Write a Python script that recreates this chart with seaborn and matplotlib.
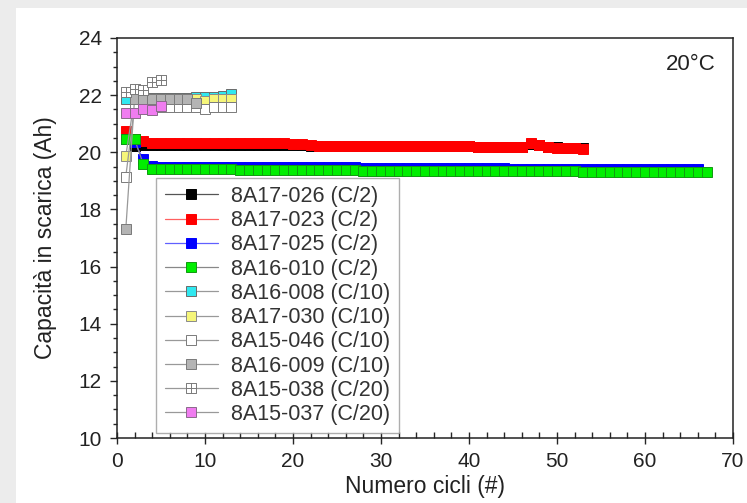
import numpy as np
import pandas as pd
import seaborn as sns
import matplotlib
matplotlib.use("Agg")
import matplotlib.pyplot as plt
from matplotlib.path import Path
from matplotlib.patches import Rectangle
from matplotlib.ticker import MultipleLocator

# --- data (capacity in Ah vs cycle number) ---
labels = ["8A17-026 (C/2)", "8A17-023 (C/2)", "8A17-025 (C/2)", "8A16-010 (C/2)",
          "8A16-008 (C/10)", "8A17-030 (C/10)", "8A15-046 (C/10)", "8A16-009 (C/10)",
          "8A15-038 (C/20)", "8A15-037 (C/20)"]

cap_8a17_026 = [20.45, 20.22, 20.27, 20.27, 20.27, 20.27, 20.27, 20.27, 20.27, 20.27,
                20.27, 20.27, 20.27, 20.27, 20.27, 20.26, 20.26, 20.26, 20.26, 20.25,
                20.25, 20.22, 20.22, 20.22, 20.22, 20.22, 20.22, 20.22, 20.22, 20.22,
                20.22, 20.22, 20.22, 20.22, 20.22, 20.21, 20.21, 20.21, 20.21, 20.21,
                20.2, 20.2, 20.2, 20.2, 20.2, 20.2, 20.3, 20.24, 20.17, 20.17,
                20.16, 20.16, 20.16]
cap_8a17_023 = [20.75, 20.45, 20.38, 20.33, 20.32, 20.32, 20.32, 20.32, 20.32, 20.32,
                20.32, 20.32, 20.32, 20.32, 20.32, 20.31, 20.31, 20.31, 20.31, 20.3,
                20.3, 20.24, 20.23, 20.23, 20.23, 20.23, 20.23, 20.23, 20.23, 20.22,
                20.22, 20.22, 20.22, 20.22, 20.22, 20.21, 20.21, 20.21, 20.21, 20.21,
                20.2, 20.2, 20.2, 20.2, 20.2, 20.2, 20.32, 20.24, 20.17, 20.16,
                20.15, 20.14, 20.13]
cap_8a17_025 = [20.45, 20.35, 19.75, 19.52, 19.5, 19.5, 19.5, 19.5, 19.5, 19.5,
                19.5, 19.5, 19.5, 19.49, 19.49, 19.49, 19.49, 19.49, 19.49, 19.49,
                19.48, 19.48, 19.47, 19.47, 19.47, 19.47, 19.47, 19.46, 19.46, 19.46,
                19.46, 19.45, 19.45, 19.45, 19.45, 19.45, 19.45, 19.44, 19.44, 19.44,
                19.44, 19.44, 19.44, 19.44, 19.43, 19.43, 19.43, 19.43, 19.43, 19.43,
                19.43, 19.43, 19.42, 19.42, 19.42, 19.42, 19.42, 19.42, 19.41, 19.41,
                19.41, 19.41, 19.41, 19.4, 19.4, 19.4]
cap_8a16_010 = [20.45, 20.45, 19.58, 19.43, 19.41, 19.41, 19.4, 19.4, 19.4, 19.4,
                19.4, 19.4, 19.4, 19.39, 19.39, 19.39, 19.39, 19.39, 19.39, 19.39,
                19.38, 19.38, 19.37, 19.37, 19.37, 19.37, 19.37, 19.36, 19.36, 19.36,
                19.36, 19.35, 19.35, 19.35, 19.35, 19.35, 19.35, 19.34, 19.34, 19.34,
                19.34, 19.34, 19.34, 19.34, 19.33, 19.33, 19.33, 19.33, 19.33, 19.33,
                19.33, 19.33, 19.32, 19.32, 19.32, 19.32, 19.32, 19.32, 19.31, 19.31,
                19.31, 19.31, 19.31, 19.3, 19.3, 19.3, 19.3]
cap_8a16_008 = [21.85, 21.9, 21.9, 21.9, 21.9, 21.9, 21.9, 21.9, 21.92, 21.92,
                21.95, 21.97, 22.05]
cap_8a17_030 = [19.87, 21.88, 21.88, 21.88, 21.88, 21.88, 21.88, 21.88, 21.85, 21.78,
                21.85, 21.85, 21.85]
cap_8a15_046 = [19.15, 21.6, 21.6, 21.6, 21.6, 21.6, 21.6, 21.6, 21.6, 21.5,
                21.6, 21.6, 21.6]
cap_8a16_009 = [17.3, 21.88, 21.86, 21.86, 21.86, 21.86, 21.86, 21.88, 21.72]
cap_8a15_038 = [22.12, 22.22, 22.18, 22.47, 22.53]
cap_8a15_037 = [21.36, 21.39, 21.5, 21.48, 21.62]

series = [cap_8a17_026, cap_8a17_023, cap_8a17_025, cap_8a16_010, cap_8a16_008,
          cap_8a17_030, cap_8a15_046, cap_8a16_009, cap_8a15_038, cap_8a15_037]

# boxed-cross marker for 8A15-038
box_cross = Path(
    [(-1, -1), (1, -1), (1, 1), (-1, 1), (-1, -1), (0, -1), (0, 1), (-1, 0), (1, 0)],
    [Path.MOVETO, Path.LINETO, Path.LINETO, Path.LINETO, Path.CLOSEPOLY,
     Path.MOVETO, Path.LINETO, Path.MOVETO, Path.LINETO])

# (face, edge, line colour, marker)
styles = [
    ("#000000", "#000000", "#555555", "s"),
    ("#ff0000", "#ff0000", "#ff6060", "s"),
    ("#0000ff", "#0000ff", "#6060ff", "s"),
    ("#00ee00", "#109a10", "#888888", "s"),
    ("#30e8f0", "#6a6a6a", "#999999", "s"),
    ("#f6f67a", "#8a8a8a", "#999999", "s"),
    ("#ffffff", "#7a7a7a", "#999999", "s"),
    ("#b4b4b4", "#7a7a7a", "#999999", "s"),
    ("#ffffff", "#7a7a7a", "#999999", box_cross),
    ("#f07cf0", "#8a6a8a", "#999999", "s"),
]

sns.set_style("ticks")
plt.rcParams["font.family"] = ["Liberation Sans", "DejaVu Sans"]

fig = plt.figure(figsize=(7.47, 5.03), dpi=100, facecolor="#ececec")
fig.patches.append(Rectangle((16 / 747, 0), 1, 1 - 8 / 503, transform=fig.transFigure,
                             facecolor="white", edgecolor="none", zorder=-1))
ax = fig.add_axes([0.1566, 0.1292, 0.8247, 0.7953])

for lab, vals, (fc, ec, lc, mk) in zip(labels, series, styles):
    df = pd.DataFrame({"cycle": np.arange(1, len(vals) + 1), "cap": vals})
    sns.lineplot(data=df, x="cycle", y="cap", ax=ax, estimator=None, sort=False,
                 color=lc, linewidth=0.9, marker=mk, markersize=6.8,
                 markerfacecolor=fc, markeredgecolor=ec, markeredgewidth=0.7,
                 label=lab)

ax.set_xlim(0, 70)
ax.set_ylim(10, 24)
ax.xaxis.set_major_locator(MultipleLocator(10))
ax.xaxis.set_minor_locator(MultipleLocator(2))
ax.yaxis.set_major_locator(MultipleLocator(2))
ax.yaxis.set_minor_locator(MultipleLocator(0.5))
ax.tick_params(axis="x", which="major", direction="inout", length=8, width=1,
               labelsize=15, pad=6, labelcolor="#222222")
ax.tick_params(axis="x", which="minor", direction="in", length=4, width=1)
ax.tick_params(axis="y", which="major", direction="out", length=5, width=1,
               labelsize=15, pad=6, labelcolor="#222222")
ax.tick_params(axis="y", which="minor", direction="out", length=3, width=1)
for sp in ax.spines.values():
    sp.set_visible(True)
    sp.set_color("#222222")
    sp.set_linewidth(1.1)

ax.set_xlabel("Numero cicli (#)", fontsize=16.5, labelpad=3, color="#222222")
ax.set_ylabel("Capacità in scarica (Ah)", fontsize=16.5, labelpad=15, color="#222222")
ax.text(0.972, 0.933, "20°C", transform=ax.transAxes, ha="right", va="center",
        fontsize=16, color="#222222")

leg = ax.legend(loc="lower left", bbox_to_anchor=(0.064, 0.012), fontsize=15.5,
                frameon=True, fancybox=False, edgecolor="#9a9a9a",
                handlelength=2.5, handletextpad=0.6, labelspacing=0.15,
                borderpad=0.38, borderaxespad=0)
leg.get_frame().set_linewidth(1.0)
for t in leg.get_texts():
    t.set_color("#333333")

fig.savefig("out.png", dpi=100, facecolor=fig.get_facecolor())
